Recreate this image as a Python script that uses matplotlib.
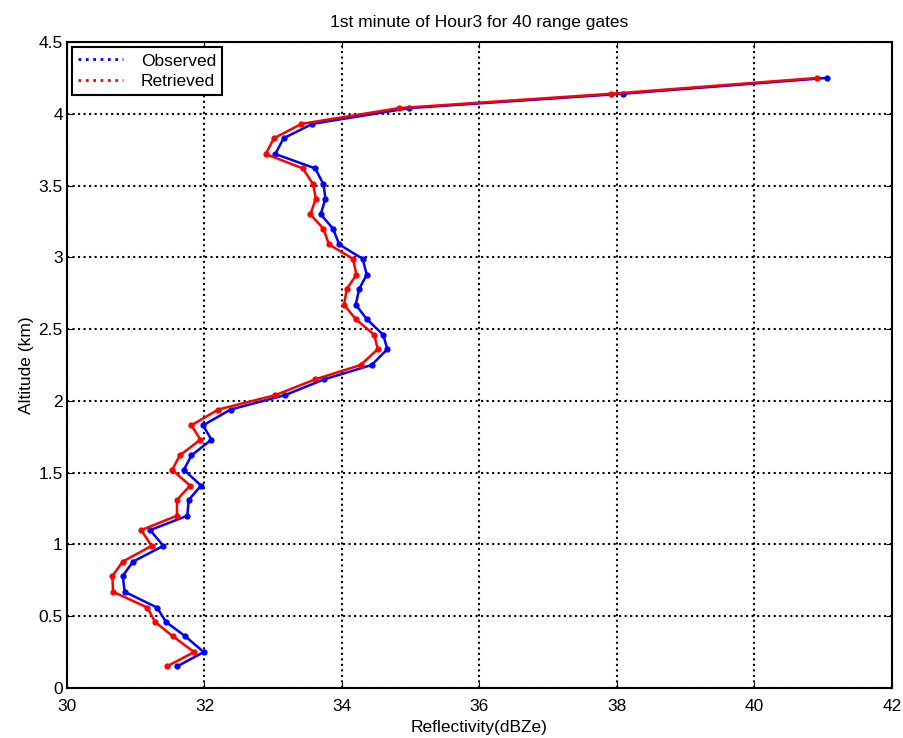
import matplotlib
matplotlib.use('Agg')
from matplotlib import pyplot as plt

plt.rcParams['font.family'] = ['Liberation Sans', 'DejaVu Sans']

# altitude of each range gate (km)
altitude = [0.15, 0.25, 0.36, 0.46, 0.56, 0.67, 0.78, 0.88, 0.99, 1.10,
            1.20, 1.31, 1.41, 1.52, 1.62, 1.73, 1.83, 1.94, 2.04, 2.15,
            2.25, 2.36, 2.46, 2.57, 2.67, 2.78, 2.88, 2.99, 3.09, 3.20,
            3.30, 3.41, 3.51, 3.62, 3.72, 3.83, 3.93, 4.04, 4.14, 4.25]

observed = [31.60, 31.99, 31.72, 31.44, 31.31, 30.84, 30.81, 30.96, 31.40, 31.21,
            31.75, 31.77, 31.95, 31.70, 31.81, 32.10, 31.98, 32.38, 33.17, 33.74,
            34.43, 34.66, 34.60, 34.36, 34.20, 34.25, 34.36, 34.30, 33.96, 33.87,
            33.69, 33.76, 33.73, 33.61, 33.03, 33.15, 33.57, 34.98, 38.09, 41.05]

retrieved = [31.45, 31.85, 31.54, 31.28, 31.17, 30.67, 30.66, 30.81, 31.23, 31.08,
             31.60, 31.60, 31.79, 31.53, 31.64, 31.94, 31.81, 32.20, 33.03, 33.61,
             34.27, 34.52, 34.47, 34.20, 34.03, 34.07, 34.21, 34.16, 33.81, 33.73,
             33.54, 33.62, 33.58, 33.43, 32.89, 33.01, 33.41, 34.83, 37.92, 40.91]

x_ticks = [30, 32, 34, 36, 38, 40, 42]
y_ticks = [0, 0.5, 1, 1.5, 2, 2.5, 3, 3.5, 4, 4.5]
y_tick_labels = ['0', '0.5', '1', '1.5', '2', '2.5', '3', '3.5', '4', '4.5']

fs = 12.5

fig = plt.figure(figsize=(9.04, 7.38), dpi=100)
ax = fig.add_axes([0.0741, 0.0678, 0.9126, 0.8752])

ax.plot(observed, altitude, color='#0000ff', linewidth=1.8, label='Observed')
ax.plot(observed, altitude, '.', color='#0000ff', markersize=7)
ax.plot(retrieved, altitude, color='#ff0000', linewidth=1.8, label='Retrieved')
ax.plot(retrieved, altitude, '.', color='#ff0000', markersize=7)

ax.set_xlim(30, 42)
ax.set_ylim(0, 4.5)
ax.set_xticks(x_ticks)
ax.set_yticks(y_ticks)
ax.set_yticklabels(y_tick_labels)
ax.tick_params(direction='in', top=True, right=True, labelsize=fs, length=4)
ax.tick_params(axis='x', pad=8)
ax.tick_params(axis='y', pad=3)
ax.grid(True, color='black', linestyle=':', linewidth=1.5)
for s in ax.spines.values():
    s.set_linewidth(1.5)

ax.set_title('1st minute of Hour3 for 40 range gates', fontsize=fs, pad=11)
ax.set_xlabel('Reflectivity(dBZe)', fontsize=fs, labelpad=4)
ax.set_ylabel('Altitude (km)', fontsize=fs, labelpad=3)

leg = ax.legend(loc='upper left', fontsize=fs, fancybox=False, framealpha=1,
                edgecolor='black', borderaxespad=0.3, handlelength=2.6,
                handletextpad=1.0, labelspacing=0.3, borderpad=0.35)
leg.get_frame().set_linewidth(1.5)
for line in leg.get_lines():
    line.set_linestyle(':')
    line.set_linewidth(2)

fig.savefig('out.png', dpi=100)
